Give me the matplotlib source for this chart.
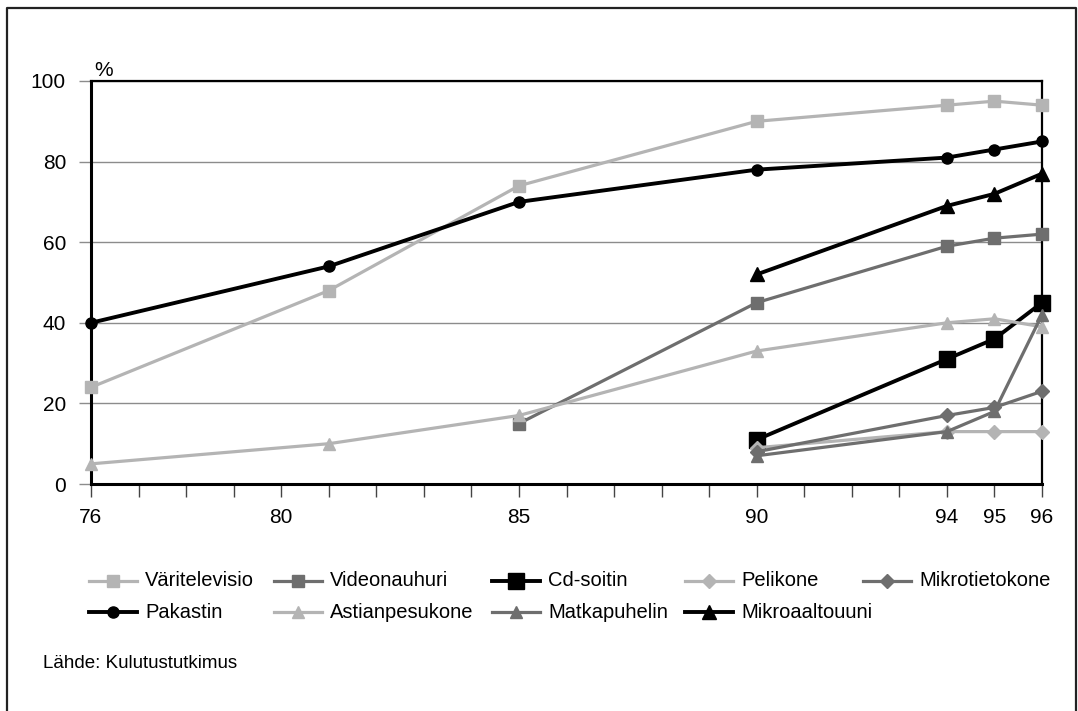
import matplotlib
matplotlib.use("Agg")
import matplotlib.pyplot as plt
from matplotlib.lines import Line2D

plt.rcParams["font.family"] = ["Liberation Sans", "DejaVu Sans"]

# vuodet ja osuudet (%)
years_long = [76, 81, 85, 90, 94, 95, 96]
years_85 = [85, 90, 94, 95, 96]
years_90 = [90, 94, 95, 96]

varitelevisio = [24, 48, 74, 90, 94, 95, 94]
pakastin = [40, 54, 70, 78, 81, 83, 85]
astianpesukone = [5, 10, 17, 33, 40, 41, 39]
videonauhuri = [15, 45, 59, 61, 62]
mikroaaltouuni = [52, 69, 72, 77]
cd_soitin = [11, 31, 36, 45]
mikrotietokone = [8, 17, 19, 23]
matkapuhelin = [7, 13, 18, 42]
pelikone = [9, 13, 13, 13]

tick_years = [76, 80, 85, 90, 94, 95, 96]
y_ticks = [0, 20, 40, 60, 80, 100]

LIGHT = "#b4b4b4"
DARK = "#6e6e6e"
BLACK = "#000000"

W, H = 1078, 711
fig = plt.figure(figsize=(W / 100, H / 100), dpi=100)
ax = fig.add_axes([91 / W, 1 - 484 / H, (1042 - 91) / W, (484 - 81) / H])

series = [
    # label, x, y, colour, marker, marker size, line width, legend slot (px)
    ("Väritelevisio", years_long, varitelevisio, LIGHT, "s", 9, 2.3, (89, 581)),
    ("Videonauhuri", years_85, videonauhuri, DARK, "s", 9, 2.3, (274, 581)),
    ("Cd-soitin", years_90, cd_soitin, BLACK, "s", 11, 2.8, (492, 581)),
    ("Pelikone", years_90, pelikone, LIGHT, "D", 7, 2.3, (685, 581)),
    ("Mikrotietokone", years_90, mikrotietokone, DARK, "D", 7, 2.3, (863, 581)),
    ("Pakastin", years_long, pakastin, BLACK, "o", 8, 2.8, (89, 612)),
    ("Astianpesukone", years_long, astianpesukone, LIGHT, "^", 9, 2.3, (274, 612)),
    ("Matkapuhelin", years_90, matkapuhelin, DARK, "^", 9, 2.3, (492, 612)),
    ("Mikroaaltouuni", years_90, mikroaaltouuni, BLACK, "^", 10, 2.8, (685, 612)),
]

for label, xs, ys, col, mk, ms, lw, (lx, ly) in series:
    ax.plot(xs, ys, color=col, lw=lw, marker=mk, ms=ms, mfc=col, mec=col,
            clip_on=False, zorder=3)
    # selite: viiva + merkki + teksti
    fy = 1 - ly / H
    fig.add_artist(Line2D([lx / W, (lx + 48) / W], [fy, fy], color=col, lw=lw,
                          transform=fig.transFigure))
    fig.add_artist(Line2D([(lx + 24) / W], [fy], color=col, marker=mk, ms=ms,
                          mfc=col, mec=col, transform=fig.transFigure))
    fig.text((lx + 56) / W, fy, label, fontsize=14.5, va="center", ha="left")

ax.set_xlim(76, 96)
ax.set_ylim(0, 100)
ax.set_xticks(range(76, 97), minor=True)
ax.set_xticks(tick_years)
ax.set_xticklabels([str(y) for y in tick_years])
ax.set_yticks(y_ticks)

ax.grid(axis="y", color="#8c8c8c", lw=1.0, zorder=1)
ax.tick_params(axis="y", length=9, width=1.0, color="#8c8c8c", pad=9,
               labelsize=15)
ax.tick_params(axis="x", which="both", length=9, width=1.0, color="#444444",
               pad=8, labelsize=15)
ax.tick_params(axis="x", which="minor", labelbottom=False)

for side in ["top", "right"]:
    ax.spines[side].set_linewidth(1.6)
for side in ["left", "bottom"]:
    ax.spines[side].set_linewidth(2.2)

fig.text(94 / W, 1 - 70 / H, "%", fontsize=15, va="center", ha="left")

fig.text(43 / W, 1 - 664 / H, "Lähde: Kulutustutkimus", fontsize=13.5,
         va="center", ha="left")

# kehys kuvan ympärillä
fig.add_artist(Line2D([7 / W, 7 / W, 1076 / W, 1076 / W],
                      [0, 1 - 8 / H, 1 - 8 / H, 0],
                      transform=fig.transFigure, color="#222222", lw=1.6))

fig.savefig("out.png", dpi=100)
